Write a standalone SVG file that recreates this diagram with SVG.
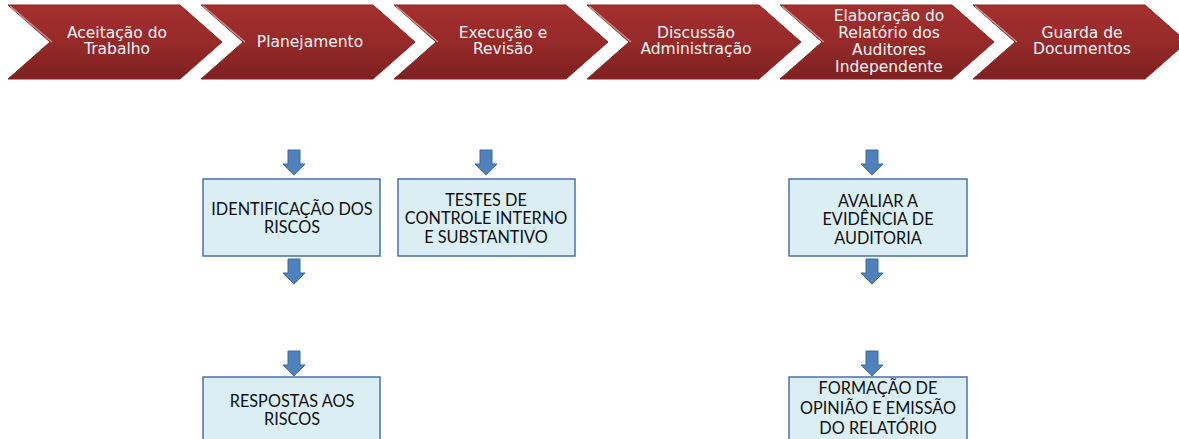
<svg xmlns="http://www.w3.org/2000/svg" width="1179" height="439" viewBox="0 0 1179 439">
<defs>
<linearGradient id="red" x1="0" y1="0" x2="0" y2="1">
<stop offset="0" stop-color="#a3302f"/>
<stop offset="0.5" stop-color="#962a29"/>
<stop offset="1" stop-color="#7e2020"/>
</linearGradient>
<path id="chev" d="M0,5 L172,5 L214,42 L172,79 L0,79 L42,42 Z"/>
<path id="arr" d="M-6,0 L6,0 L6,14 L11,14 L0,25 L-11,14 L-6,14 Z"/>
</defs>
<style>
.chev{fill:url(#red);stroke:#8a2525;stroke-width:1}
.bevel{fill:none;stroke:#e8a8a8;stroke-width:1.2;opacity:0.8}
.ct{font-family:"DejaVu Sans",Verdana,sans-serif;font-size:15.5px;fill:#f4f4f4;text-anchor:middle}
.box{fill:#dbeef4;stroke:#4a70a8;stroke-width:1.5}
.bt{font-family:Lato,"Open Sans",sans-serif;font-size:16.3px;fill:#111;text-anchor:middle}
.arrow{fill:#4f81bd;stroke:#3b6a9e;stroke-width:1}
</style>
<rect width="1179" height="439" fill="#ffffff"/>

<g id="step1" transform="translate(8,0)">
<use href="#chev" class="chev"/><path class="bevel" d="M2,6 L44,42"/>
<text class="ct" x="109" y="38">Aceitação do</text>
<text class="ct" x="109" y="54">Trabalho</text>
</g>
<g id="step2" transform="translate(201,0)">
<use href="#chev" class="chev"/><path class="bevel" d="M2,6 L44,42"/>
<text class="ct" x="109" y="47">Planejamento</text>
</g>
<g id="step3" transform="translate(394,0)">
<use href="#chev" class="chev"/><path class="bevel" d="M2,6 L44,42"/>
<text class="ct" x="109" y="38">Execução e</text>
<text class="ct" x="109" y="54">Revisão</text>
</g>
<g id="step4" transform="translate(587,0)">
<use href="#chev" class="chev"/><path class="bevel" d="M2,6 L44,42"/>
<text class="ct" x="109" y="38">Discussão</text>
<text class="ct" x="109" y="54">Administração</text>
</g>
<g id="step5" transform="translate(780,0)">
<use href="#chev" class="chev"/><path class="bevel" d="M2,6 L44,42"/>
<text class="ct" x="109" y="21">Elaboração do</text>
<text class="ct" x="109" y="38">Relatório dos</text>
<text class="ct" x="109" y="55">Auditores</text>
<text class="ct" x="109" y="72">Independente</text>
</g>
<g id="step6" transform="translate(973,0)">
<use href="#chev" class="chev"/><path class="bevel" d="M2,6 L44,42"/>
<text class="ct" x="109" y="38">Guarda de</text>
<text class="ct" x="109" y="54">Documentos</text>
</g>

<g id="connectors">
<use href="#arr" class="arrow" x="294" y="150"/>
<use href="#arr" class="arrow" x="294" y="259"/>
<use href="#arr" class="arrow" x="294" y="351"/>
<use href="#arr" class="arrow" x="486" y="150"/>
<use href="#arr" class="arrow" x="872" y="150"/>
<use href="#arr" class="arrow" x="872" y="259"/>
<use href="#arr" class="arrow" x="872" y="351"/>
</g>

<g id="identificacao">
<rect class="box" x="203" y="179" width="177" height="77"/>
<text class="bt" x="292" y="215">IDENTIFICAÇÃO DOS</text>
<text class="bt" x="292" y="233">RISCOS</text>
</g>
<g id="testes">
<rect class="box" x="398" y="179" width="177" height="77"/>
<text class="bt" x="486" y="206">TESTES DE</text>
<text class="bt" x="486" y="224">CONTROLE INTERNO</text>
<text class="bt" x="486" y="243">E SUBSTANTIVO</text>
</g>
<g id="respostas">
<rect class="box" x="203" y="377" width="177" height="70"/>
<text class="bt" x="292" y="407">RESPOSTAS AOS</text>
<text class="bt" x="292" y="425">RISCOS</text>
</g>
<g id="avaliar">
<rect class="box" x="789" y="179" width="178" height="77"/>
<text class="bt" x="878" y="207">AVALIAR A</text>
<text class="bt" x="878" y="225">EVIDÊNCIA DE</text>
<text class="bt" x="878" y="244">AUDITORIA</text>
</g>
<g id="formacao">
<rect class="box" x="789" y="377" width="178" height="70"/>
<text class="bt" x="878" y="394">FORMAÇÃO DE</text>
<text class="bt" x="878" y="414">OPINIÃO E EMISSÃO</text>
<text class="bt" x="878" y="434">DO RELATÓRIO</text>
</g>
</svg>
